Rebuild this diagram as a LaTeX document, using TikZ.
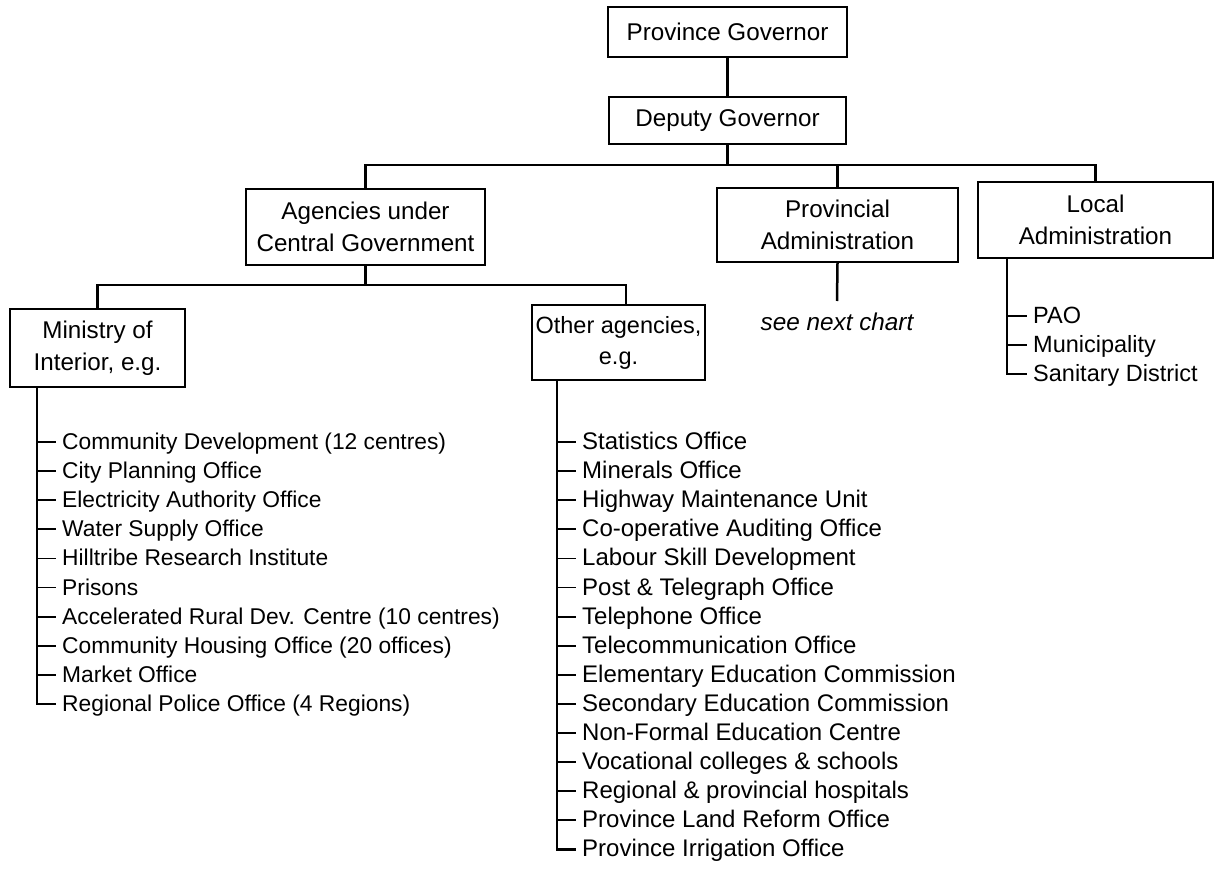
\documentclass[tikz,border=0pt]{standalone}
\usepackage{fontspec}
\setmainfont{Liberation Sans}
\begin{document}
\begin{tikzpicture}[x=1pt,y=-1pt,
  box/.style={draw, line width=1.8pt, inner sep=0pt, align=center,
    font=\fontsize{24.2}{32}\selectfont},
  link/.style={line width=2.5pt},
  tick/.style={line width=1.8pt},
  item/.style={anchor=west, inner xsep=0pt, inner ysep=0pt,
    text height=15pt, text depth=0pt,
    font=\fontsize{23.5}{28}\selectfont},
  mitem/.style={item, font=\fontsize{22.8}{28}\selectfont},
  oitem/.style={item, font=\fontsize{24}{28}\selectfont},
]
\useasboundingbox (0,0) rectangle (1225,869);

% top of the hierarchy
\node[box, minimum width=239pt, minimum height=50pt] (pg) at (727.5,32) {Province Governor};
\node[box, minimum width=237pt, minimum height=47pt] (dg) at (727.5,120.5) {Deputy Governor};

% second level
\node[box, minimum width=239pt, minimum height=76pt] (acg) at (365.5,227) {Agencies under\\Central Government};
\node[box, minimum width=241pt, minimum height=74pt] (pa) at (837.5,225) {Provincial\\Administration};
\node[box, minimum width=235pt, minimum height=76pt] (la) at (1095.5,220) {Local\\Administration};

% third level
\node[box, minimum width=175pt, minimum height=78pt] (min) at (97.5,348) {Ministry of\\Interior, e.g.};
\node[box, minimum width=173pt, minimum height=75pt,
  font=\fontsize{23.5}{31}\selectfont] (oth) at (618.5,342.5) {Other agencies,\\e.g.};

\node[anchor=north, inner sep=0pt, font=\fontsize{24.3}{28}\selectfont\itshape] (next) at (837,313) {see next chart};

% connectors between boxes
\coordinate (tb) at (0,165);
\coordinate (sb) at (626,285);
\draw[link] (pg) -- (dg);
\draw[link] (dg.south) -- (dg.south |- tb);
\draw[link] (acg.north) -- (acg.north |- tb) -- (la.north |- tb) -- (la.north);
\draw[link] (pa.north) -- (pa.north |- tb);
\draw[link] (acg.south) -- (acg.south |- sb);
\draw[link] (min.north) |- (sb) -- (sb |- oth.north);
\draw[link] (pa.south) -- ([yshift=12pt]next.north);

% Ministry of Interior list
\coordinate (mbus) at (37,0);
\foreach \t [count=\i] in {
  Community Development (12 centres),
  City Planning Office,
  Electricity Authority Office,
  Water Supply Office,
  Hilltribe Research Institute,
  Prisons,
  Accelerated Rural Dev. Centre (10 centres),
  Community Housing Office (20 offices),
  Market Office,
  Regional Police Office (4 Regions)}
  \node[mitem] (m\i) at (62,442+29.1*\i-29.1) {\t};
\draw[link] (min.south -| mbus) |- ([xshift=-6pt]m10.west);
\foreach \i in {1,...,9}
  \draw[tick] (mbus |- m\i.west) -- ([xshift=-6pt]m\i.west);

% Other agencies list
\coordinate (obus) at (557,0);
\foreach \t [count=\i] in {
  Statistics Office,
  Minerals Office,
  Highway Maintenance Unit,
  Co-operative Auditing Office,
  Labour Skill Development,
  Post \& Telegraph Office,
  Telephone Office,
  Telecommunication Office,
  Elementary Education Commission,
  Secondary Education Commission,
  Non-Formal Education Centre,
  Vocational colleges \& schools,
  Regional \& provincial hospitals,
  Province Land Reform Office,
  Province Irrigation Office}
  \node[oitem] (o\i) at (582,442+29.1*\i-29.1) {\t};
\draw[link] (oth.south -| obus) |- ([xshift=-6pt]o15.west);
\foreach \i in {1,...,14}
  \draw[tick] (obus |- o\i.west) -- ([xshift=-6pt]o\i.west);

% Local Administration list
\coordinate (lbus) at (1007,0);
\node[item] (l1) at (1033,316) {PAO};
\node[item] (l2) at (1033,345) {Municipality};
\node[item] (l3) at (1033,374) {Sanitary District};
\draw[link] (la.south -| lbus) |- ([xshift=-6pt]l3.west);
\foreach \i in {1,2}
  \draw[tick] (lbus |- l\i.west) -- ([xshift=-6pt]l\i.west);
\end{tikzpicture}
\end{document}
